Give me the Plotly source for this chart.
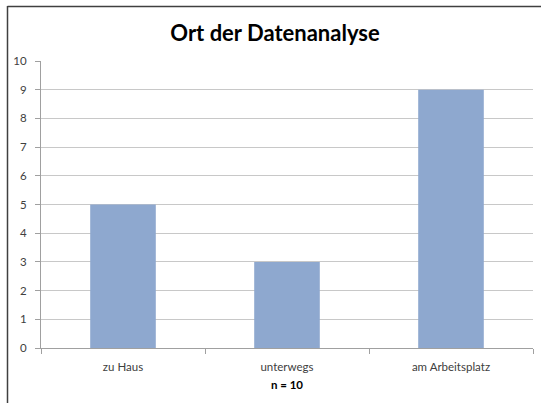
import plotly.graph_objects as go

categories = ["zu Haus", "unterwegs", "am Arbeitsplatz"]
values = [5, 3, 9]
y_ticks = list(range(0, 11))

fig = go.Figure(go.Bar(
    x=categories, y=values, width=0.4,
    marker=dict(color="#8EA8CF", line=dict(width=0)),
))

W, H = 541, 403
l, r, t, b = 41, 8, 61, 55
pw, ph = W - l - r, H - t - b

def px(x):
    return (x - l) / pw

def py(y):
    return (H - b - y) / ph

fig.update_layout(
    width=W, height=H,
    margin=dict(l=l, r=r, t=t, b=b, autoexpand=False),
    paper_bgcolor="white", plot_bgcolor="white",
    showlegend=False,
    title=dict(text="<b>Ort der Datenanalyse</b>", x=(275) / W, xanchor="center",
               y=1 - 33 / H, yanchor="middle",
               font=dict(family="Lato, Liberation Sans, sans-serif", size=22, color="#000000")),
    font=dict(family="Lato, Liberation Sans, sans-serif", size=11.5, color="#404040"),
    bargap=0.6,
)
fig.update_xaxes(
    showline=True, linecolor="#A0A0A0", linewidth=1,
    ticks="outside", tickson="boundaries", ticklen=5, tickcolor="#A0A0A0",
    showgrid=False, automargin=False, ticklabelstandoff=8,
    title=dict(text="<b>n = 10</b>", font=dict(size=11.5, color="#000000"), standoff=9),
    tickfont=dict(size=11.5, color="#404040"),
)
fig.update_yaxes(
    range=[0, 10], tickvals=y_ticks, showline=True, linecolor="#A0A0A0", linewidth=1,
    ticks="outside", ticklen=5, tickcolor="#A0A0A0",
    showgrid=True, gridcolor="#C8C8C8", gridwidth=1,
    zeroline=False, automargin=False, ticklabelstandoff=6,
    tickfont=dict(size=11.5, color="#404040"),
)
# chart frame (left and top edges)
fig.add_shape(type="line", xref="paper", yref="paper",
              x0=px(7.5), x1=px(7.5), y0=py(6), y1=py(405),
              line=dict(color="#404040", width=1.5))
fig.add_shape(type="line", xref="paper", yref="paper",
              x0=px(7.5), x1=px(545), y0=py(6.5), y1=py(6.5),
              line=dict(color="#404040", width=1.5))

fig.write_html("out.html", config={"displayModeBar": False},
               post_script="document.body.style.margin='0';document.body.style.overflow='hidden';")
